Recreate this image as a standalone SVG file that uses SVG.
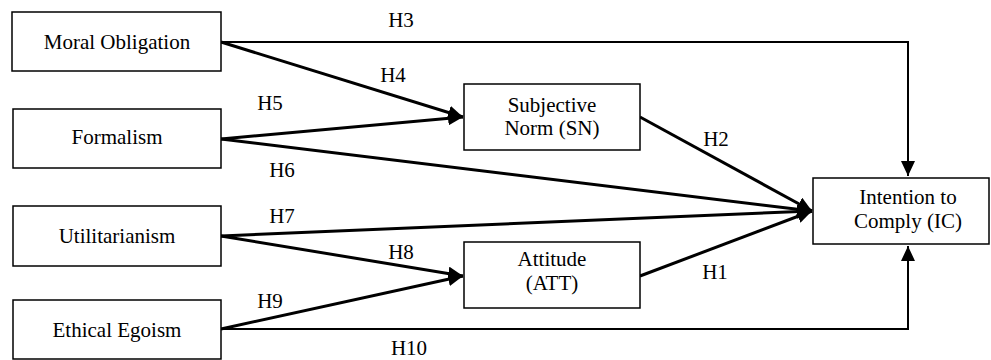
<svg xmlns="http://www.w3.org/2000/svg" width="991" height="360" viewBox="0 0 991 360">
<style>
.box{fill:#fff;stroke:#000;stroke-width:1.5}
.t{font-family:"Liberation Serif","Times New Roman",Times,"DejaVu Serif",serif;font-size:21px;fill:#000;text-anchor:middle}
.c{fill:none;stroke:#000;stroke-width:3}
.h{fill:none;stroke:#000;stroke-width:2}
</style>
<defs>
<marker id="a" markerUnits="userSpaceOnUse" markerWidth="16" markerHeight="14" refX="15" refY="7" orient="auto">
<path d="M0,0 L15,7 L0,14 z" fill="#000"/>
</marker>
</defs>
<g id="connectors">
<polyline class="h" points="221,42 908,42 908,176" marker-end="url(#a)"/>
<line class="c" x1="221" y1="42" x2="463" y2="117" marker-end="url(#a)"/>
<line class="c" x1="221" y1="139" x2="463" y2="117" marker-end="url(#a)"/>
<line class="c" x1="221" y1="139" x2="812" y2="211" marker-end="url(#a)"/>
<line class="c" x1="640" y1="117" x2="812" y2="211" marker-end="url(#a)"/>
<line class="c" x1="221" y1="236" x2="812" y2="211" marker-end="url(#a)"/>
<line class="c" x1="221" y1="236" x2="463" y2="276" marker-end="url(#a)"/>
<line class="c" x1="221" y1="329" x2="463" y2="276" marker-end="url(#a)"/>
<line class="c" x1="640" y1="276" x2="812" y2="211" marker-end="url(#a)"/>
<polyline class="h" points="221,329 908,329 908,246" marker-end="url(#a)"/>
<text class="t" x="401" y="27">H3</text>
<text class="t" x="393" y="82">H4</text>
<text class="t" x="270" y="110">H5</text>
<text class="t" x="282" y="177">H6</text>
<text class="t" x="716" y="146">H2</text>
<text class="t" x="282" y="223">H7</text>
<text class="t" x="401" y="259">H8</text>
<text class="t" x="270" y="308">H9</text>
<text class="t" x="715" y="279">H1</text>
<text class="t" x="409" y="355">H10</text>
</g>
<g id="moral">
<rect class="box" x="12" y="12" width="209" height="59"/>
<text class="t" x="117" y="49">Moral Obligation</text>
</g>
<g id="formalism">
<rect class="box" x="13" y="109" width="208" height="59"/>
<text class="t" x="117" y="144">Formalism</text>
</g>
<g id="utilitarianism">
<rect class="box" x="13" y="206" width="208" height="60"/>
<text class="t" x="117" y="243">Utilitarianism</text>
</g>
<g id="egoism">
<rect class="box" x="13" y="300" width="208" height="59"/>
<text class="t" x="117" y="337">Ethical Egoism</text>
</g>
<g id="sn">
<rect class="box" x="464" y="84" width="176" height="66"/>
<text class="t" x="552" y="112">Subjective</text>
<text class="t" x="552" y="135">Norm (SN)</text>
</g>
<g id="att">
<rect class="box" x="464" y="242" width="176" height="66"/>
<text class="t" x="552" y="266">Attitude</text>
<text class="t" x="552" y="290">(ATT)</text>
</g>
<g id="ic">
<rect class="box" x="813" y="178" width="176" height="66"/>
<text class="t" x="908" y="204">Intention to</text>
<text class="t" x="908" y="228">Comply (IC)</text>
</g>
</svg>
